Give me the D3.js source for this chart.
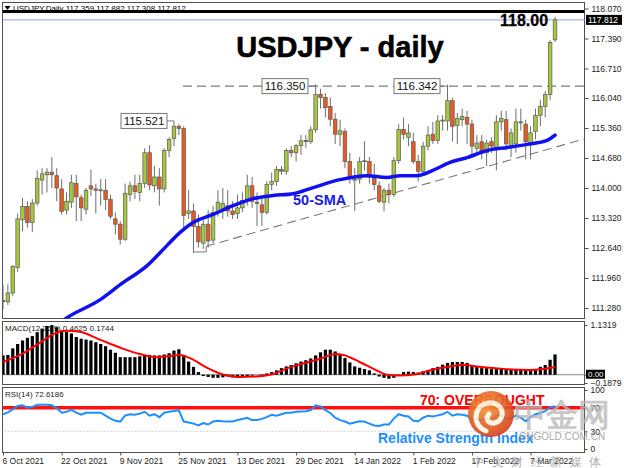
<!DOCTYPE html>
<html><head><meta charset="utf-8">
<script src="https://cdn.jsdelivr.net/npm/d3@7"></script>
<style>
body{margin:0;background:#fff}
svg{display:block}
text{font-family:"Liberation Sans",Arial,sans-serif}
</style></head>
<body><svg id="c" width="624" height="468"></svg>
<script>
// ---------- DATA ----------
const opens = [111.45,111.42,111.62,112.20,113.28,113.58,113.22,113.66,114.18,114.30,114.36,114.28,113.98,113.50,113.68,114.10,113.78,113.52,114.05,113.98,113.95,113.95,113.74,113.30,113.18,112.84,113.85,114.05,113.90,114.10,114.80,114.05,114.25,113.98,114.85,115.12,115.40,115.35,113.42,113.48,113.13,112.75,113.18,112.82,113.45,113.52,113.60,113.48,113.42,113.55,113.72,114.05,113.68,113.62,113.45,114.08,114.15,114.42,114.38,114.85,114.80,114.96,115.08,115.05,115.32,116.12,116.05,115.85,115.56,115.22,115.28,114.60,114.18,114.20,114.60,114.60,114.22,114.05,113.68,113.95,113.85,114.62,115.33,115.15,115.05,114.60,114.38,114.95,115.22,115.08,115.52,115.52,115.98,115.42,115.55,115.60,115.45,114.90,115.05,114.80,115.05,114.90,115.50,115.55,114.92,115.00,115.50,115.45,115.02,115.28,115.65,115.85,116.12,117.359];
const highs = [111.80,111.82,112.25,113.42,113.78,113.70,113.75,114.40,114.45,114.45,114.70,114.45,114.20,113.90,114.30,114.30,113.85,114.00,114.42,114.10,114.20,114.20,113.85,113.45,113.25,114.10,114.15,114.30,114.30,114.90,114.97,114.50,114.45,114.90,115.15,115.52,115.45,115.40,113.95,113.65,113.40,113.30,113.50,113.60,113.95,114.00,113.95,113.70,113.85,113.90,114.30,114.25,113.90,113.80,114.15,114.35,114.50,114.50,114.90,114.95,115.00,115.20,115.20,115.40,116.35,116.25,116.15,116.05,115.70,115.55,115.35,114.80,114.45,114.70,115.06,114.70,114.55,114.15,114.00,114.10,114.70,115.45,115.60,115.45,115.25,114.75,115.05,115.40,115.50,115.65,115.65,116.34,116.05,115.70,115.80,115.75,115.55,115.20,115.20,115.10,115.15,115.65,115.75,115.75,115.35,115.80,115.80,115.55,115.40,115.80,116.00,116.20,117.35,117.882];
const lows = [111.25,111.35,111.55,112.10,113.02,113.10,113.00,113.60,113.85,113.90,114.00,113.70,113.40,113.40,113.55,113.25,113.25,113.40,113.82,113.42,113.60,113.50,113.30,112.95,112.72,112.80,113.70,113.75,113.70,114.00,113.95,113.90,113.60,113.90,114.70,114.95,115.20,113.05,113.30,112.53,112.65,112.62,112.65,112.75,113.35,113.30,113.35,113.30,113.30,113.45,113.60,113.55,113.14,113.14,113.40,113.95,114.05,114.30,114.30,114.70,114.60,114.75,114.90,115.00,115.25,115.80,115.60,115.40,115.00,114.95,114.45,114.10,113.48,114.10,114.40,114.10,113.95,113.65,113.47,113.65,113.80,114.55,115.10,114.95,114.55,114.15,114.30,114.85,115.00,115.00,115.30,115.30,115.05,115.00,115.40,115.00,114.70,114.75,114.65,114.50,114.80,114.40,115.30,114.85,114.70,114.80,115.30,114.65,114.65,115.10,115.40,115.60,116.00,117.308];
const closes = [111.42,111.62,112.22,113.30,113.58,113.22,113.66,114.22,114.32,114.36,114.30,114.00,113.47,113.70,114.12,113.80,113.55,113.95,113.98,113.95,113.96,113.74,113.36,113.18,112.84,113.88,114.05,113.92,114.10,114.80,114.07,114.25,113.98,114.85,115.10,115.40,115.35,113.38,113.48,113.13,112.78,113.18,112.80,113.45,113.68,113.65,113.48,113.40,113.55,113.72,114.05,113.70,113.65,113.45,114.08,114.15,114.42,114.38,114.85,114.80,114.96,115.07,115.05,115.32,116.12,116.05,115.82,115.56,115.22,115.30,114.60,114.22,114.20,114.60,114.62,114.25,114.08,113.70,113.95,113.85,114.62,115.33,115.22,115.25,114.60,114.38,114.95,115.20,115.08,115.52,115.54,115.98,115.40,115.58,115.62,115.45,114.95,115.02,114.80,115.02,114.95,115.50,115.58,115.00,115.25,115.50,115.48,115.05,115.25,115.65,115.85,116.12,117.30,117.812];

// 50-SMA: [bar index, value]
const smaIdx = [10.6,12.3,19.9,24.0,29.5,33.6,36.2,38.9,43.0,47.1,51.2,55.3,59.4,63.5,69.0,74.5,78.6,81.3,84.7,88.0,91.5,95.0,99.1,103.2,107.3,111.4,113];
const smaVal = [110.85,111.00,111.47,111.81,112.24,112.70,112.99,113.22,113.40,113.60,113.76,113.83,113.87,114.01,114.19,114.28,114.24,114.28,114.28,114.40,114.58,114.69,114.85,114.92,114.99,115.08,115.20];

// MACD main (histogram) per bar
const macd = [0.44,0.45,0.60,0.70,0.78,0.84,0.88,0.97,1.05,1.11,1.13,1.08,1.01,0.98,0.94,0.86,0.82,0.80,0.78,0.74,0.70,0.65,0.57,0.50,0.40,0.40,0.40,0.40,0.42,0.44,0.45,0.44,0.44,0.46,0.49,0.55,0.58,0.45,0.30,0.18,0.06,-0.03,-0.05,-0.07,-0.07,-0.06,-0.04,-0.06,-0.07,-0.05,-0.03,-0.02,0.00,0.01,0.03,0.06,0.10,0.15,0.19,0.22,0.26,0.30,0.33,0.37,0.44,0.51,0.57,0.57,0.53,0.46,0.38,0.28,0.19,0.16,0.13,0.10,0.03,-0.04,-0.07,-0.09,-0.07,-0.02,0.06,0.07,0.06,0.05,0.08,0.11,0.15,0.18,0.23,0.27,0.29,0.29,0.29,0.27,0.22,0.18,0.15,0.15,0.13,0.14,0.15,0.13,0.11,0.11,0.11,0.11,0.11,0.12,0.18,0.22,0.34,0.4625];
// MACD signal: [bar index, value]
const sigIdx = [0,3.5,7.6,10.8,12.9,15.7,19.8,23.9,28.0,31.3,33.7,36.2,38.6,41.9,45.2,48.5,51.7,55.0,58.3,61.6,64.8,68.1,69.7,73.0,76.3,78.7,81.2,84.5,87.7,91.0,94.3,97.5,100.8,104.1,107.4,110.6,113];
const sigVal = [0.29,0.45,0.73,0.95,1.00,0.98,0.80,0.62,0.47,0.40,0.42,0.45,0.36,0.15,0.00,-0.05,-0.04,0.01,0.15,0.26,0.36,0.47,0.45,0.29,0.11,0.00,-0.02,0.01,0.11,0.18,0.22,0.18,0.15,0.12,0.11,0.13,0.1744];

// RSI(14) per bar
const rsi = [59,62,67,73,74,70,71.5,75,75,75,74,69,61.5,63,66.5,61.5,58,61.5,61.5,61.5,61.5,56.5,51.5,48,46.5,56.5,59,58,60,63,56.5,59,54,61.5,63,64.5,65.5,46.5,45,43,40,44,41.5,46.5,48,47,46.5,46.5,49,51,53,49,49,51,54,58,56.5,59,61.5,61.5,63,63.5,64,66,74,72,66,61,53,49,46.5,43,45,47,46.5,43,40,39,41.5,41.5,51.5,59,56.5,55,48,47,53,56.5,55,57,59,63,56.5,59,58,56.5,50,51,49,51,50,57,57,51,52,57,53,47,54,59,61,64,71,72.6186];

// axis labels
const priceTicks = [118.070,117.390,116.710,116.040,115.360,114.680,114.000,113.320,112.640,111.960,111.280];
const dateTickIdx = [0,12,24,36,48,60,72,84,96,108];
const dateTickLabels = ["6 Oct 2021","22 Oct 2021","9 Nov 2021","25 Nov 2021","13 Dec 2021","29 Dec 2021","14 Jan 2022","1 Feb 2022","17 Feb 2022","7 Mar 2022"];
const macdTicks = [1.1319,0,-0.1879];
const rsiTicks = [100,70,30,0];

// annotations (bar index, price)
const resistanceLevel = 116.31;
const priceLabels = [{t:"115.521",i:35,p:115.521,bx:121},{t:"116.350",i:64,p:116.31,bx:262},{t:"116.342",i:91,p:116.31,bx:394}];
const trendIdx = [41.6,118.9], trendVal = [112.68,115.11];
const level118 = 118.00, bidPrice = 117.812;

// ---------- DRAW ----------
const svg = d3.select("#c");
const L = 2.5, R = 584.5;
const panels = {main:[2.5,318.5], macd:[321.5,384.5], rsi:[387.5,452.5]};
const n = closes.length;
const x = d3.scaleLinear().domain([0, n-1]).range([3, 555]);
const yP = d3.scaleLinear().domain([111.28, 118.07]).range([308, 8.5]);
const yM = d3.scaleLinear().domain([-0.1879, 1.1319]).range([383, 325]);
const yR = d3.scaleLinear().domain([0, 100]).range([449, 390]);

const defs = svg.append("defs");
Object.entries(panels).forEach(([k,[t,b]])=>{
  defs.append("clipPath").attr("id","clip-"+k).append("rect").attr("x",L).attr("y",t).attr("width",R-L).attr("height",b-t);
});

// panel frames
Object.values(panels).forEach(([t,b])=>{
  svg.append("rect").attr("x",L).attr("y",t).attr("width",R-L).attr("height",b-t).attr("fill","#fff").attr("stroke","#505050").attr("stroke-width",1);
});

// ---- main panel ----
const gm = svg.append("g").attr("clip-path","url(#clip-main)");
// resistance dashed line
gm.append("line").attr("x1",183).attr("x2",R).attr("y1",yP(resistanceLevel)).attr("y2",yP(resistanceLevel))
  .attr("stroke","#7a7a7a").attr("stroke-width",1.1).attr("stroke-dasharray","9,5");
// 118 level thick black, bid line
gm.append("line").attr("x1",L).attr("x2",R).attr("y1",yP(level118)).attr("y2",yP(level118)).attr("stroke","#000").attr("stroke-width",3);
gm.append("line").attr("x1",L).attr("x2",R).attr("y1",yP(bidPrice)).attr("y2",yP(bidPrice)).attr("stroke","#9a9af0").attr("stroke-width",1);

// support trend line + bracket
gm.append("path").attr("d",d3.line()([[x(39),yP(112.55)],[x(trendIdx[0]),yP(112.55)],[x(trendIdx[0]),yP(trendVal[0])]]))
  .attr("fill","none").attr("stroke","#7a7a7a").attr("stroke-width",1);
gm.append("line").attr("x1",x(trendIdx[0])).attr("y1",yP(trendVal[0])).attr("x2",x(trendIdx[1])).attr("y2",yP(trendVal[1]))
  .attr("stroke","#7a7a7a").attr("stroke-width",1.1).attr("stroke-dasharray","9,5");

// candles
const idx = d3.range(n);
gm.selectAll("line.wick").data(idx).join("line").attr("class","wick")
  .attr("x1",i=>x(i)).attr("x2",i=>x(i)).attr("y1",i=>yP(highs[i])).attr("y2",i=>yP(lows[i]))
  .attr("stroke","#6e6e6e").attr("stroke-width",1);
gm.selectAll("rect.body").data(idx).join("rect").attr("class","body")
  .attr("x",i=>x(i)-1.8).attr("width",3.6)
  .attr("y",i=>yP(Math.max(opens[i],closes[i])))
  .attr("height",i=>Math.max(1,Math.abs(yP(opens[i])-yP(closes[i]))))
  .attr("fill",i=>closes[i]>=opens[i]?"#a5c83a":"#ea5a1e")
  .attr("stroke","#5a5a5a").attr("stroke-width",0.7);

// 50-SMA
gm.append("path").datum(smaIdx.map((d,k)=>[d,smaVal[k]]))
  .attr("d",d3.line().x(d=>x(d[0])).y(d=>yP(d[1])).curve(d3.curveMonotoneX))
  .attr("fill","none").attr("stroke","#1010f0").attr("stroke-width",3.5).attr("stroke-linecap","round");

// price label boxes
priceLabels.forEach(o=>{
  const yy = yP(o.p);
  const bw = 46, bh = 15;
  gm.append("path").attr("d",d3.line()([[o.bx+bw,yy],[x(o.i),yy],[x(o.i),yP(o.p)]]))
    .attr("stroke","#7a7a7a").attr("fill","none");
  gm.append("rect").attr("x",o.bx).attr("y",yy-bh/2).attr("width",bw).attr("height",bh)
    .attr("fill","#fff").attr("stroke","#777").attr("stroke-width",1);
  gm.append("text").attr("x",o.bx+bw/2).attr("y",yy+4).attr("text-anchor","middle")
    .attr("font-size",11.5).attr("fill","#111").text(o.t);
});
gm.select("path").raise; 

// texts
svg.append("path").attr("d","M4.5,6 L10.5,6 L7.5,10 Z").attr("fill","#000");
svg.append("text").attr("x",13).attr("y",11).attr("font-size",8).attr("fill","#000")
  .text("USDJPY,Daily  117.359 117.882 117.308 117.812");
svg.append("text").attr("x",340).attr("y",57).attr("text-anchor","middle").attr("font-size",29)
  .attr("font-weight","bold").attr("fill","#000").attr("stroke","#000").attr("stroke-width",0.6).text("USDJPY - daily");
svg.append("text").attr("x",524).attr("y",26).attr("text-anchor","middle").attr("font-size",16)
  .attr("font-weight","bold").attr("fill","#000").attr("stroke","#000").attr("stroke-width",0.3).text("118.00");
svg.append("text").attr("x",293).attr("y",205).attr("font-size",14.5)
  .attr("font-weight","bold").attr("fill","#1a1ae6").text("50-SMA");

// price axis
const pa = svg.append("g").attr("transform",`translate(${R},0)`)
  .call(d3.axisRight(yP).tickValues(priceTicks).tickFormat(d3.format(".3f")).tickSize(4).tickPadding(3));
pa.select(".domain").remove();
pa.selectAll("text").attr("font-size",8.5).attr("font-family","Liberation Sans, Arial, sans-serif").attr("fill","#222");
pa.selectAll("line").attr("stroke","#505050");
// bid label
svg.append("rect").attr("x",586).attr("y",yP(bidPrice)-5).attr("width",36).attr("height",10).attr("fill","#000");
svg.append("text").attr("x",588).attr("y",yP(bidPrice)+3.2).attr("font-size",8.5).attr("fill","#fff").text(bidPrice.toFixed(3));

// ---- MACD panel ----
const gmac = svg.append("g").attr("clip-path","url(#clip-macd)");
gmac.append("text").attr("x",5).attr("y",331).attr("font-size",8).attr("fill","#222").text("MACD(12,26,9) 0.4625 0.1744");
gmac.append("line").attr("x1",L).attr("x2",R).attr("y1",yM(0)).attr("y2",yM(0)).attr("stroke","#888").attr("stroke-width",1);
gmac.selectAll("rect.h").data(idx).join("rect").attr("class","h")
  .attr("x",i=>x(i)-1.6).attr("width",3.2)
  .attr("y",i=>Math.min(yM(0),yM(macd[i])))
  .attr("height",i=>Math.abs(yM(macd[i])-yM(0)))
  .attr("fill","#000");
gmac.append("path").datum(sigIdx.map((d,k)=>[d,sigVal[k]]))
  .attr("d",d3.line().x(d=>x(d[0])).y(d=>yM(d[1])).curve(d3.curveMonotoneX))
  .attr("fill","none").attr("stroke","#ff0000").attr("stroke-width",2);
const ma = svg.append("g").attr("transform",`translate(${R},0)`)
  .call(d3.axisRight(yM).tickValues(macdTicks).tickFormat(d=>d===0?"":d3.format(".4f")(d)).tickSize(3).tickPadding(3));
ma.select(".domain").remove();
ma.selectAll("text").attr("font-size",8.5).attr("font-family","Liberation Sans, Arial, sans-serif").attr("fill","#222");
ma.selectAll("line").attr("stroke","#505050");
svg.append("rect").attr("x",586).attr("y",yM(0)-5).attr("width",19).attr("height",9).attr("fill","#000");
svg.append("text").attr("x",588).attr("y",yM(0)+2.5).attr("font-size",8).attr("fill","#fff").text("0.00");

// ---- RSI panel ----
const gr = svg.append("g").attr("clip-path","url(#clip-rsi)");
gr.append("text").attr("x",5).attr("y",397).attr("font-size",8).attr("fill","#222").text("RSI(14) 72.6186");
gr.append("line").attr("x1",L).attr("x2",R).attr("y1",yR(30)).attr("y2",yR(30)).attr("stroke","#b5b5b5").attr("stroke-dasharray","1,2");
gr.append("line").attr("x1",L).attr("x2",R).attr("y1",yR(70)).attr("y2",yR(70)).attr("stroke","#ff1010").attr("stroke-width",3.5);
gr.append("path").datum(rsi)
  .attr("d",d3.line().x((d,i)=>x(i)).y(d=>yR(d)))
  .attr("fill","none").attr("stroke","#1e8fff").attr("stroke-width",2);
gr.append("text").attr("x",420).attr("y",405).attr("font-size",14).attr("font-weight","bold").attr("fill","#ff0000").text("70: OVERBOUGHT");
gr.append("text").attr("x",378).attr("y",443).attr("font-size",14).attr("font-weight","bold").attr("fill","#1e8fff").text("Relative Strength Index");
const ra = svg.append("g").attr("transform",`translate(${R},0)`)
  .call(d3.axisRight(yR).tickValues(rsiTicks).tickSize(3).tickPadding(3));
ra.select(".domain").remove();
ra.selectAll("text").attr("font-size",8.5).attr("font-family","Liberation Sans, Arial, sans-serif").attr("fill","#222");
ra.selectAll("line").attr("stroke","#505050");

// ---- date axis ----
const xa = svg.append("g").attr("transform",`translate(0,${panels.rsi[1]})`)
  .call(d3.axisBottom(x).tickValues(dateTickIdx).tickFormat((d,k)=>dateTickLabels[k]).tickSize(3).tickPadding(2));
xa.select(".domain").remove();
xa.selectAll("text").attr("text-anchor","start").attr("dx",-1).attr("font-size",8.5)
  .attr("font-family","Liberation Sans, Arial, sans-serif").attr("fill","#222");
xa.selectAll("line").attr("stroke","#505050");

// ---- watermark ----
const wm = svg.append("g").attr("opacity",0.9);
const grad = defs.append("radialGradient").attr("id","lg").attr("cx","40%").attr("cy","35%").attr("r","70%");
grad.append("stop").attr("offset","0%").attr("stop-color","#f39a3a");
grad.append("stop").attr("offset","100%").attr("stop-color","#d8391a");
wm.append("circle").attr("cx",491).attr("cy",414).attr("r",23).attr("fill","url(#lg)");
wm.append("path").attr("d","M486,431 C478,428 474,420 477,412 C480,403 492,400 499,406 C505,412 502,422 494,423 C488,424 485,418 489,414")
  .attr("fill","none").attr("stroke","#fff5e0").attr("stroke-width",5).attr("stroke-linecap","round");
wm.append("text").attr("x",514).attr("y",426).attr("font-size",32).attr("font-weight","bold")
  .attr("font-family","Noto Sans CJK SC").attr("fill","#b8b8b8").attr("opacity",0.85).text("中金网");
wm.append("text").attr("x",519).attr("y",440).attr("font-size",10)
  .attr("fill","#a0a0a0").text("CNGOLD.COM.CN");
wm.append("text").attr("x",472).attr("y",466).attr("font-size",12).attr("letter-spacing",7.5)
  .attr("font-family","Noto Sans CJK SC").attr("fill","#a8a8a8").text("中文财经新媒体");
</script></body></html>
